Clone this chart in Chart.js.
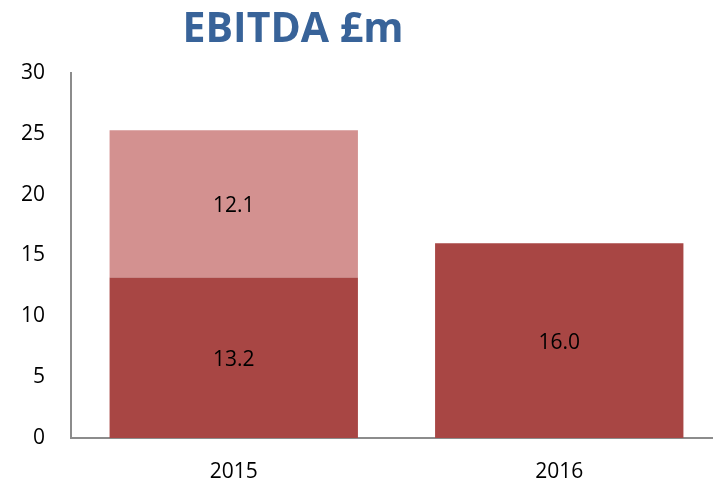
<!DOCTYPE html>
<html><head><meta charset="utf-8">
<script src="https://cdn.jsdelivr.net/npm/chart.js@4"></script>
<style>
html,body{margin:0;padding:0;background:#fff;overflow:hidden;}
#wrap{width:713px;height:485px;overflow:hidden;position:relative;}
#c{position:absolute;left:0;top:0;}
</style></head>
<body>
<div id="wrap"><canvas id="c" width="722" height="485"></canvas></div>
<script>
const title = "EBITDA £m";
const categories = ["2015", "2016"];
const baseValues = [13.2, 16.0];
const extraValues = [12.1, null];
const yTicks = [0, 5, 10, 15, 20, 25, 30];

const FONT = "'Open Sans', sans-serif";

const valueLabels = {
  id: 'valueLabels',
  afterDatasetsDraw(chart) {
    const ctx = chart.ctx;
    ctx.save();
    ctx.font = "21px " + FONT;
    ctx.fillStyle = "#000";
    ctx.textAlign = "center";
    ctx.textBaseline = "middle";
    chart.data.datasets.forEach((ds, i) => {
      const meta = chart.getDatasetMeta(i);
      meta.data.forEach((bar, j) => {
        const v = ds.data[j];
        if (v == null) return;
        const cy = (bar.y + bar.base) / 2 + 2;
        ctx.fillText(v.toFixed(1), bar.x, cy);
      });
    });
    ctx.restore();
  }
};

const titlePlugin = {
  id: 'titlePlugin',
  afterDraw(chart) {
    const ctx = chart.ctx;
    ctx.save();
    ctx.font = "bold 41px " + FONT;
    ctx.fillStyle = "#386399";
    ctx.textAlign = "center";
    ctx.textBaseline = "alphabetic";
    ctx.fillText(title, 293, 42);
    ctx.restore();
  }
};

new Chart(document.getElementById('c'), {
  type: 'bar',
  data: {
    labels: categories,
    datasets: [
      { data: baseValues, backgroundColor: '#A84644', borderWidth: 0 },
      { data: extraValues, backgroundColor: '#D39190', borderWidth: 0 }
    ]
  },
  options: {
    responsive: false,
    animation: false,
    devicePixelRatio: 1,
    layout: { padding: { top: 73, left: 0, right: 0, bottom: 0 } },
    plugins: { legend: { display: false }, tooltip: { enabled: false }, title: { display: false } },
    datasets: { bar: { categoryPercentage: 1, barPercentage: 0.763 } },
    scales: {
      x: {
        stacked: true,
        grid: { display: false, drawTicks: false },
        border: { display: true, color: '#8c8c8c', width: 2 },
        ticks: { color: '#000', font: { family: FONT, size: 21 }, padding: 21 },
        afterFit(s) { s.height = 47; }
      },
      y: {
        stacked: true,
        min: 0, max: 30,
        afterBuildTicks(s) { s.ticks = yTicks.map(v => ({ value: v })); },
        grid: { display: false, drawTicks: false },
        border: { display: true, color: '#8c8c8c', width: 2 },
        ticks: { color: '#000', font: { family: FONT, size: 21 }, padding: 26 },
        afterFit(s) { s.width = 71; }
      }
    }
  },
  plugins: [valueLabels, titlePlugin]
});
</script>
</body></html>
